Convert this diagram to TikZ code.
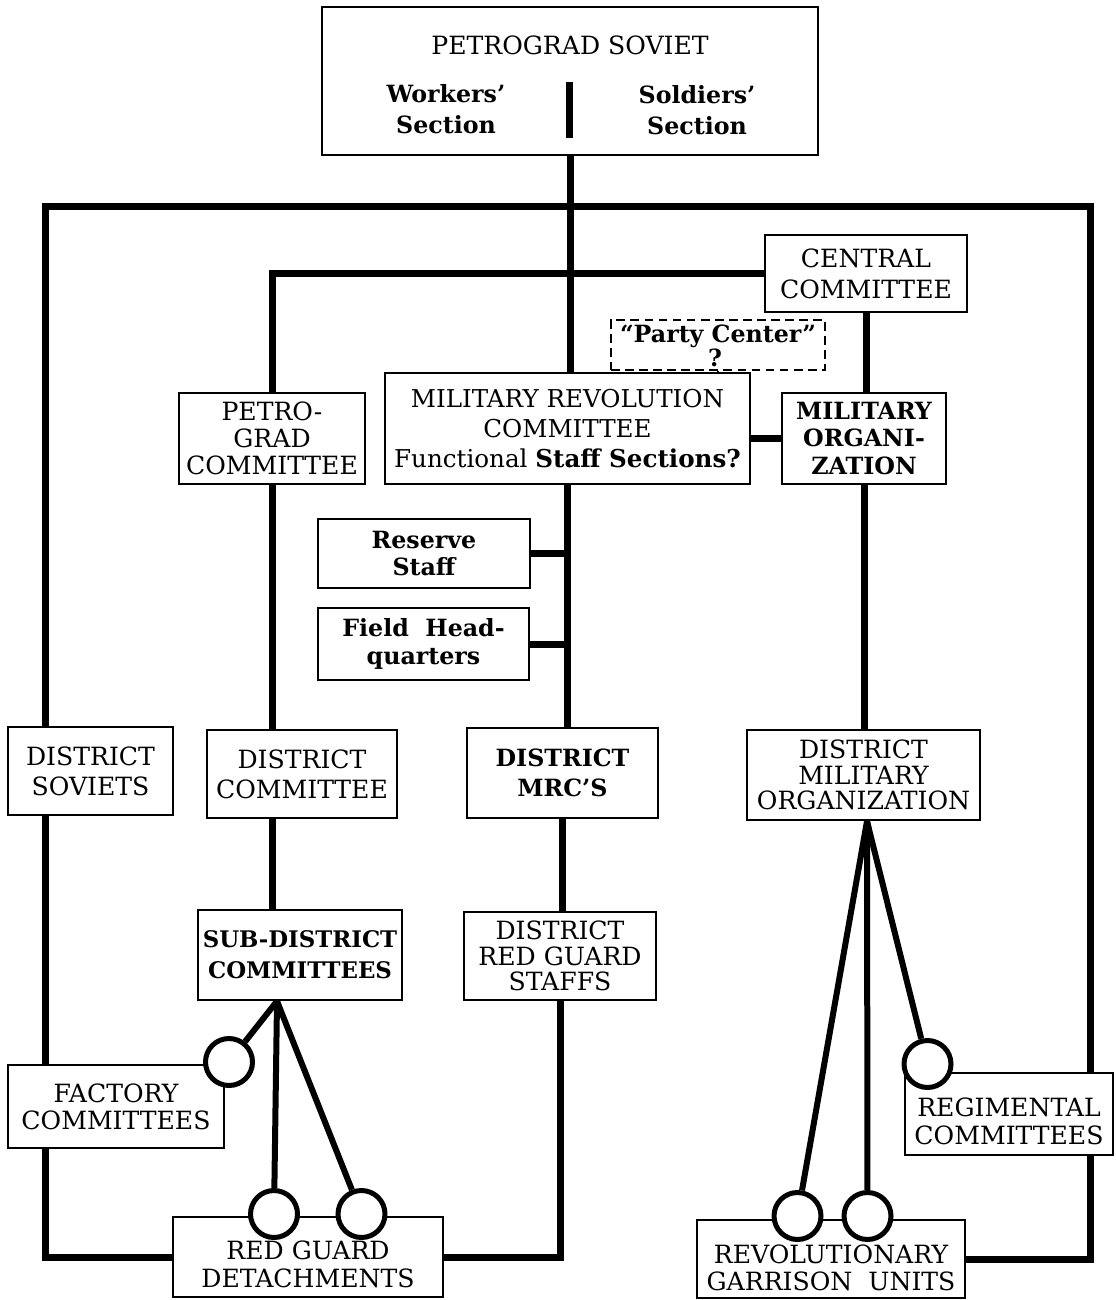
\documentclass[tikz,border=0pt]{standalone}
\usepackage{fontspec}
\setmainfont{DejaVu Serif}
\usetikzlibrary{backgrounds}

\tikzset{
  box/.style 2 args={draw, fill=white, line width=1.3pt, minimum width=#1*0.02cm,
    minimum height=#2*0.02cm, inner sep=0pt, align=center,
    font=\fontsize{14.3}{17}\selectfont},
  heavy/.style={font=\fontsize{13.5}{#1}\selectfont\bfseries},
  dashbox/.style 2 args={box={#1}{#2}, dashed, dash pattern=on 5pt off 3pt, line width=0.9pt},
  link/.style={line width=0.14cm},
  spoke/.style={line width=0.12cm},
  ring/.style={circle, draw, fill=white, line width=0.1cm, minimum size=0.94cm, inner sep=0pt}
}

\begin{document}
\begin{tikzpicture}[x=0.02cm,y=-0.02cm]
		\useasboundingbox (0,0) rectangle (1115,1300);
		%Top: the Soviet
		\node[box={496}{148}] (soviet) at (570,81) {};
		\node[font=\fontsize{14.3}{17}\selectfont] (sovtitle) at (570,45) {PETROGRAD SOVIET};
		\node[align=center, heavy=18] (workers) at (446,109) {Workers'\\Section};
		\node[align=center, heavy=18] (soldiers) at (697,110) {Soldiers'\\Section};
		\draw[link] (569,82) -- (569,138);
		%Party side
		\node[box={202}{77}, font=\fontsize{14.3}{17.6}\selectfont] (central) at (866,273.5) {CENTRAL\\COMMITTEE};
		\node[dashbox={214}{50}] (party) at (718,345) {};
		\node[heavy=14] (partytxt) at (718,336) {``Party Center''};
		\node[heavy=14, inner sep=0pt] (partyq) at (715,358) {?};
		\node[box={365}{111}, font=\fontsize{14}{17}\selectfont] (mrc) at (567.5,428.5)
			{MILITARY REVOLUTION\\COMMITTEE\\Functional {\bfseries Staff Sections?}};
		\node[box={164}{91}, heavy=15.6] (milorg) at (864,438.5) {MILITARY\\ORGANI-\\ZATION};
		\node[box={186}{91}, font=\fontsize{14.3}{15.3}\selectfont] (petcom) at (272,438.5) {PETRO-\\GRAD\\COMMITTEE};
		\node[box={212}{69}, heavy=15.5] (reserve) at (424,553.5) {Reserve\\Staff};
		\node[box={211}{72}, heavy=16] (fieldhq) at (423.5,644) {Field\ \ Head-\\quarters};
		%District level
		\node[box={165}{88}] (dsoviets) at (90.5,771) {DISTRICT\\SOVIETS};
		\node[box={190}{88}] (dcom) at (302,774) {DISTRICT\\COMMITTEE};
		\node[box={191}{90}, heavy=17] (dmrc) at (562.5,773) {DISTRICT\\MRC’S};
		\node[box={233}{90}, font=\fontsize{14.3}{14.7}\selectfont] (dmo) at (863.5,775) {DISTRICT\\MILITARY\\ORGANIZATION};
		\node[box={204}{90}, font=\fontsize{13}{17.5}\selectfont\bfseries] (subdist) at (300,955) {SUB-DISTRICT\\COMMITTEES};
		\node[box={192}{88}, font=\fontsize{14.3}{14.5}\selectfont] (drgs) at (560,956) {DISTRICT\\RED GUARD\\STAFFS};
		%Bottom level
		\node[box={216}{83}, font=\fontsize{14.3}{15.3}\selectfont] (factory) at (116,1106.5) {FACTORY\\COMMITTEES};
		\node[box={208}{82}] (regim) at (1009,1114) {};
		\node[box={270}{80}] (redguard) at (308,1257) {};
		\node[box={268}{78}] (garrison) at (831,1259) {};
		\node[align=center, font=\fontsize{14.3}{15.8}\selectfont] (regimtxt) at ([yshift=-0.15cm]regim.center) {REGIMENTAL\\COMMITTEES};
		\node[align=center, font=\fontsize{14.3}{15.8}\selectfont] (redguardtxt) at ([yshift=-0.14cm]redguard.center) {RED GUARD\\DETACHMENTS};
		\node[align=center, font=\fontsize{14.3}{15.3}\selectfont] (garrisontxt) at ([yshift=-0.18cm]garrison.center) {REVOLUTIONARY\\GARRISON\ \ UNITS};
		%Rings
		\node[ring] (rfac) at (229,1062) {};
		\node[ring] (rrg1) at (274,1214) {};
		\node[ring] (rrg2) at (361.5,1214) {};
		\node[ring] (rreg) at (927.5,1064) {};
		\node[ring] (rgar1) at (797.5,1216) {};
		\node[ring] (rgar2) at (867.5,1216) {};
		\coordinate (frameNW) at (45,207);
		\coordinate (frameNE) at (1090,207);
		\coordinate (sdfoot) at ([xshift=-0.46cm]subdist.south);
		\coordinate (dmofoot) at ([xshift=0.07cm]dmo.south);
		%Connectors
		\begin{scope}[on background layer]
		\draw[link] (redguard.west) -| (frameNW) -- (frameNE) |- (garrison.east);
		\draw[link] (soviet.south) -- (soviet.south |- mrc.north);
		\draw[link] (central.west) -| (petcom.north);
		\draw[link] (central.south) -- (central.south |- milorg.north);
		\draw[link] (milorg.west) -- (milorg.west -| mrc.east);
		\draw[line width=0.9pt] (party.south) -- (party.south |- mrc.north);
		\draw[link] (mrc.south) -- (mrc.south |- dmrc.north);
		\draw[link] (reserve.east) -- (reserve.east -| mrc.south);
		\draw[link] (fieldhq.east) -- (fieldhq.east -| mrc.south);
		\draw[link] (dmrc.south) -- (dmrc.south |- drgs.north);
		\draw[link] (drgs.south) |- (redguard.east);
		\draw[link] (petcom.south) -- (petcom.south |- dcom.north);
		\draw[link] (petcom.south |- dcom.south) -- (petcom.south |- subdist.north);
		\draw[link] (milorg.south) -- (milorg.south |- dmo.north);
		\draw[spoke] (sdfoot) -- (rfac);
		\draw[spoke] (sdfoot) -- (rrg1);
		\draw[spoke] (sdfoot) -- (rrg2);
		\draw[spoke] (dmofoot) -- (rgar1);
		\draw[spoke] (dmofoot) -- (rgar2);
		\draw[spoke] (dmofoot) -- (rreg);
		\end{scope}
\end{tikzpicture}
\end{document}
